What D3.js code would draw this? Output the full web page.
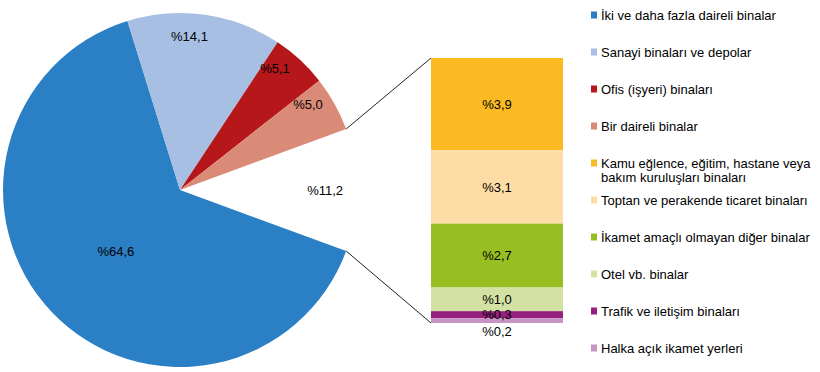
<!DOCTYPE html>
<html>
<head>
<meta charset="utf-8">
<script src="https://cdn.jsdelivr.net/npm/d3@7"></script>
<style>
  body { margin: 0; background: #fff; }
  svg text { font-family: "Liberation Sans", Arial, sans-serif; font-size: 13px; fill: #000; }
</style>
</head>
<body>
<svg id="chart" width="820" height="372"></svg>
<script>
// pie part
const pieNames = ['İki ve daha fazla daireli binalar', 'Sanayi binaları ve depolar', 'Ofis (işyeri) binaları', 'Bir daireli binalar'];
const pieValues = [64.6, 14.1, 5.1, 5.0];
const pieColors = ['#2b7fc4', '#a6bfe3', '#b5171b', '#da8b78'];

// the "other" slice, broken out into the bar
const otherValue = 11.2;
const barNames = ['Kamu eğlence, eğitim, hastane veya bakım kuruluşları binaları', 'Toptan ve perakende ticaret binaları', 'İkamet amaçlı olmayan diğer binalar', 'Otel vb. binalar', 'Trafik ve iletişim binaları', 'Halka açık ikamet yerleri'];
const barValues = [3.9, 3.1, 2.7, 1.0, 0.3, 0.2];
const barColors = ['#fbba22', '#fddda5', '#97bf22', '#d3e2a2', '#95207e', '#c894c4'];

const fmt = (v) => '%' + d3.format('.1f')(v).replace('.', ',');

const svg = d3.select('#chart');
const cx = 180, cy = 190, R = 177;

let pieData = [{ name: 'other', value: otherValue, other: true }].concat(
  pieNames.map((n, i) => ({ name: n, value: pieValues[i], color: pieColors[i] }))
);

let total = d3.sum(pieData, (d) => d.value);
let start = Math.PI / 2 - (otherValue / total) * Math.PI;
let pie = d3
  .pie()
  .sort(null)
  .value((d) => d.value)
  .startAngle(start)
  .endAngle(start + 2 * Math.PI);

let arcs = pie(pieData);
let arc = d3.arc().innerRadius(0).outerRadius(R);

let g = svg.append('g').attr('transform', `translate(${cx},${cy})`);

g.selectAll('path')
  .data(arcs.filter((d) => !d.data.other))
  .join('path')
  .attr('d', arc)
  .attr('fill', (d) => d.data.color);

let labelPos = (d) => {
  let r = d.data.value > 50 ? R * 0.5 : d.data.other ? R * 0.82 : R * 0.87;
  // small slices sit a little before their mid angle, like the original
  let shift = d.data.other || d.data.value > 50 ? 0 : -0.08;
  let a = (d.startAngle + d.endAngle) / 2 + shift;
  return [r * Math.sin(a), -r * Math.cos(a)];
};

g.selectAll('text')
  .data(arcs)
  .join('text')
  .attr('x', (d) => labelPos(d)[0])
  .attr('y', (d) => labelPos(d)[1])
  .attr('text-anchor', 'middle')
  .attr('dy', '0.35em')
  .text((d) => fmt(d.data.value));

// stacked bar
let barX = d3.scaleBand().domain([0]).range([431, 563]);
let barY = d3.scaleLinear().domain([0, otherValue]).range([58, 323]);

let cum = 0;
let barData = barValues.map((v, i) => {
  let d = { name: barNames[i], value: v, color: barColors[i], y0: cum, y1: cum + v };
  cum += v;
  return d;
});

svg
  .append('g')
  .selectAll('rect')
  .data(barData)
  .join('rect')
  .attr('x', barX(0))
  .attr('width', barX.bandwidth())
  .attr('y', (d) => barY(d.y0))
  .attr('height', (d) => barY(d.y1) - barY(d.y0))
  .attr('fill', (d) => d.color);

svg
  .append('g')
  .selectAll('text')
  .data(barData)
  .join('text')
  .attr('x', barX(0) + barX.bandwidth() / 2)
  .attr('y', (d, i) => (i == barData.length - 1 ? barY(d.y1) + 8 : (barY(d.y0) + barY(d.y1)) / 2))
  .attr('dy', '0.35em')
  .attr('text-anchor', 'middle')
  .text((d) => fmt(d.value));

// connector lines from the gap edges to the bar corners
let gap = arcs[0];
let edge = (a) => [cx + R * Math.sin(a), cy - R * Math.cos(a)];
let p0 = edge(gap.startAngle),
  p1 = edge(gap.endAngle);

svg
  .append('g')
  .selectAll('line')
  .data([
    [p0, [barX(0), barY(0)]],
    [p1, [barX(0), barY(otherValue)]],
  ])
  .join('line')
  .attr('x1', (d) => d[0][0])
  .attr('y1', (d) => d[0][1])
  .attr('x2', (d) => d[1][0])
  .attr('y2', (d) => d[1][1])
  .attr('stroke', '#222')
  .attr('stroke-width', 1);

// legend
let legendItems = pieNames
  .map((n, i) => ({ name: n, color: pieColors[i] }))
  .concat(barNames.map((n, i) => ({ name: n, color: barColors[i] })));

let legend = svg
  .append('g')
  .selectAll('g')
  .data(legendItems)
  .join('g')
  .attr('transform', (d, i) => `translate(591,${15 + 37 * i})`);

legend
  .append('rect')
  .attr('x', 0)
  .attr('y', -3.5)
  .attr('width', 6)
  .attr('height', 7)
  .attr('fill', (d) => d.color);

legend
  .append('text')
  .attr('x', 10)
  .attr('y', 0)
  .each(function (d) {
    let t = d3.select(this);
    let words = d.name.split(' ');
    let line = [];
    let tspan = t.append('tspan').attr('x', 10).attr('dy', '0.35em');
    words.forEach((w) => {
      line.push(w);
      tspan.text(line.join(' '));
      if (tspan.node().getComputedTextLength() > 218 && line.length > 1) {
        line.pop();
        tspan.text(line.join(' '));
        line = [w];
        tspan = t.append('tspan').attr('x', 10).attr('dy', '14px').text(w);
      }
    });
  });
</script>
</body>
</html>
